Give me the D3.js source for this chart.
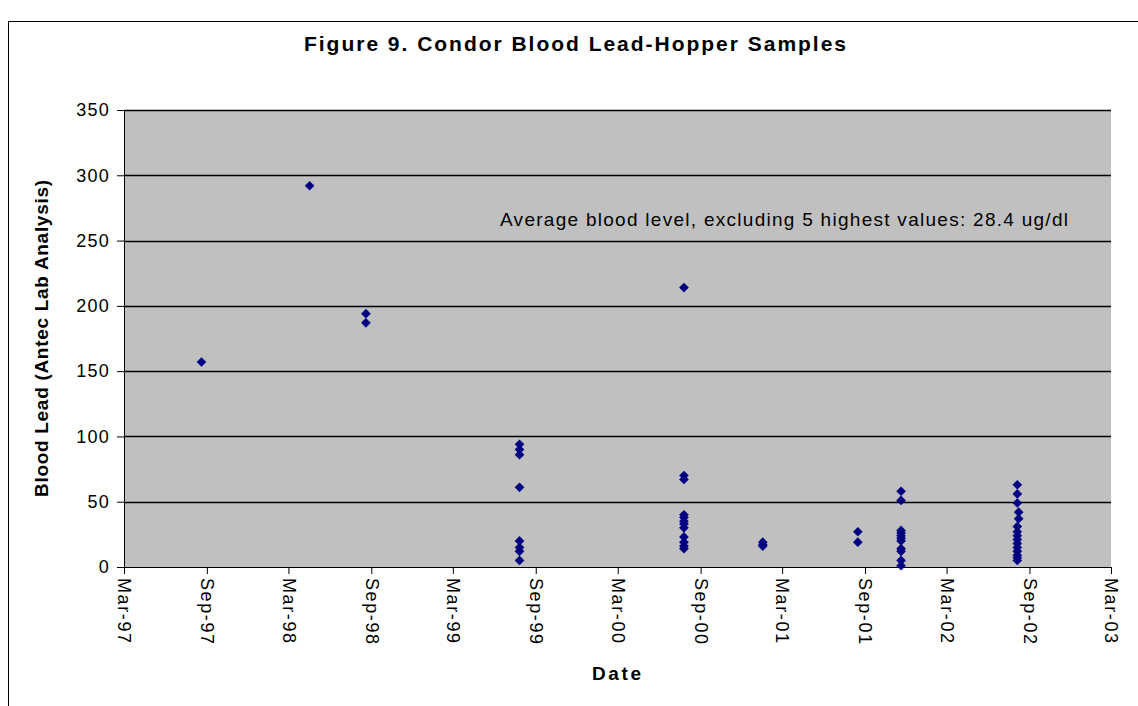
<html>
<head>
<script src="https://cdn.jsdelivr.net/npm/d3@7"></script>
<style>
body { margin: 0; background: #fff; }
text { font-family: "Liberation Sans", Arial, sans-serif; }
</style>
</head>
<body>
<svg width="1138" height="706"></svg>
<script>
// sample dates (one per visit) and the lead values measured on that visit
var sampleDates = ["1997-08-20", "1998-04-17", "1998-08-20", "1999-07-27", "2000-07-26",
                   "2001-01-17", "2001-08-16", "2001-11-20", "2002-08-05", "2002-08-08"];
var leadValues = [
  [157],
  [292],
  [194, 187],
  [94, 90, 86, 61, 20, 15, 12, 5],
  [214, 70, 67, 40, 38, 35, 33, 30, 23, 19, 16, 14],
  [19, 17, 16],
  [27, 19],
  [58, 51, 28, 26, 24, 22, 20, 14, 12, 5, 1],
  [63, 56, 49, 31, 27, 24, 21, 18, 15, 12, 9, 7, 5],
  [42, 37]
];
var yTicks = [0, 50, 100, 150, 200, 250, 300, 350];
var xTickDates = ["1997-03-01", "1997-09-01", "1998-03-01", "1998-09-01", "1999-03-01",
                  "1999-09-01", "2000-03-01", "2000-09-01", "2001-03-01", "2001-09-01",
                  "2002-03-01", "2002-09-01", "2003-03-01"];
var titleText = "Figure 9.  Condor Blood Lead-Hopper Samples";
var noteText = "Average blood level, excluding 5 highest values: 28.4 ug/dl";

var parse = d3.timeParse("%Y-%m-%d");
var points = [];
sampleDates.forEach(function(d, i) {
  leadValues[i].forEach(function(v) { points.push({date: parse(d), value: v}); });
});
var xTicks = xTickDates.map(parse);

var svg = d3.select("svg");
var plot = {left: 124, right: 1111, top: 110, bottom: 567};
var fontFam = "'Liberation Sans', Arial, sans-serif";

// chart frame
svg.append("rect")
    .attr("x", 8.5).attr("y", 21.5)
    .attr("width", 1140).attr("height", 700)
    .attr("fill", "#fff").attr("stroke", "#000").attr("stroke-width", 1);

var x = d3.scaleTime()
    .domain([xTicks[0], xTicks[xTicks.length - 1]])
    .range([plot.left, plot.right]);
var y = d3.scaleLinear()
    .domain([0, 350])
    .range([plot.bottom, plot.top]);

svg.append("rect")
    .attr("x", plot.left).attr("y", plot.top)
    .attr("width", plot.right - plot.left).attr("height", plot.bottom - plot.top)
    .attr("fill", "#c0c0c0");

// gridlines
svg.append("g").selectAll("line")
    .data(yTicks.filter(function(t) { return t > 0; }))
  .enter().append("line")
    .attr("x1", plot.left).attr("x2", plot.right)
    .attr("y1", function(d) { return Math.round(y(d)) + 0.5; })
    .attr("y2", function(d) { return Math.round(y(d)) + 0.5; })
    .attr("stroke", "#000").attr("stroke-width", 1.3);

// y axis
var yAxis = svg.append("g")
    .attr("transform", "translate(" + plot.left + ",0)")
    .call(d3.axisLeft(y).tickValues(yTicks).tickSize(7).tickPadding(7));
yAxis.selectAll("text").attr("font-size", 18).attr("fill", "#000")
    .style("font-family", fontFam).style("letter-spacing", "1.2px");
yAxis.select(".domain").attr("stroke", "#000").attr("d", "M0.5," + plot.top + "V" + plot.bottom);

// x axis
var xAxis = svg.append("g")
    .attr("transform", "translate(0," + plot.bottom + ")")
    .call(d3.axisBottom(x).tickValues(xTicks)
      .tickFormat(d3.timeFormat("%b-%y")).tickSize(7));
xAxis.select(".domain").attr("stroke", "#000").attr("d", "M" + plot.left + ",0.5H" + plot.right);
xAxis.selectAll("text")
    .attr("font-size", 18).attr("fill", "#000")
    .style("font-family", fontFam).style("letter-spacing", "1.6px")
    .attr("text-anchor", "start")
    .attr("dy", "0.35em")
    .attr("transform", "translate(0,11) rotate(90)")
    .attr("x", 0).attr("y", 0);

// markers
svg.append("g").selectAll("path")
    .data(points)
  .enter().append("path")
    .attr("d", d3.symbol().type(d3.symbolDiamond2).size(60))
    .attr("transform", function(d) { return "translate(" + x(d.date) + "," + y(d.value) + ")"; })
    .attr("fill", "#000080");

// texts
svg.append("text")
    .attr("x", 304).attr("y", 51)
    .attr("font-size", 21).attr("font-weight", "bold")
    .attr("textLength", 542).attr("lengthAdjust", "spacing")
    .text(titleText);

svg.append("text")
    .attr("x", 500).attr("y", 226)
    .attr("font-size", 19)
    .attr("textLength", 568).attr("lengthAdjust", "spacing")
    .text(noteText);

svg.append("text")
    .attr("x", 592).attr("y", 680)
    .attr("font-size", 19).attr("font-weight", "bold")
    .attr("textLength", 49).attr("lengthAdjust", "spacing")
    .text("Date");

svg.append("text")
    .attr("transform", "translate(48,497) rotate(-90)")
    .attr("font-size", 19).attr("font-weight", "bold")
    .attr("textLength", 317).attr("lengthAdjust", "spacing")
    .text("Blood Lead (Antec Lab Analysis)");
</script>
</body>
</html>
